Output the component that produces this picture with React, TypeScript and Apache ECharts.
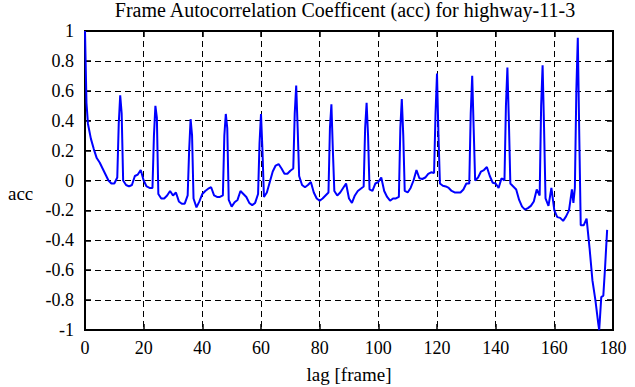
import React, { useEffect, useRef } from "react";
import * as echarts from "echarts";

const titleText = "Frame Autocorrelation Coefficent (acc) for highway-11-3";
const xAxisName = "lag [frame]";
const yAxisName = "acc";

const xTicks = [0, 20, 40, 60, 80, 100, 120, 140, 160, 180];
const yTicks = [-1, -0.8, -0.6, -0.4, -0.2, 0, 0.2, 0.4, 0.6, 0.8, 1];

const lags = [
  0, 0.5, 1, 2, 3, 4, 5, 6, 7, 8, 9, 10, 11, 11.5, 12, 12.5, 13, 14, 15, 16, 17, 18, 19, 20,
  21, 22, 23, 23.5, 24, 24.5, 25, 26, 27, 28, 29, 30, 31, 32, 33, 34, 35, 35.5, 36, 36.5, 37,
  38, 39, 40, 41, 42, 43, 44, 45, 46, 47, 47.5, 48, 48.5, 49, 50, 51, 52, 53, 54, 55, 56, 57,
  58, 59, 59.5, 60, 60.5, 61, 62, 63, 64, 65, 66, 67, 68, 69, 70, 71, 71.5, 72, 72.5, 73, 74,
  75, 76, 77, 78, 79, 80, 81, 82, 83, 83.5, 84, 84.5, 85, 86, 87, 88, 89, 90, 91, 92, 93, 94,
  95, 95.5, 96, 96.5, 97, 98, 99, 100, 101, 102, 103, 104, 105, 106, 107, 107.5, 108, 108.5,
  109, 110, 111, 112, 113, 114, 115, 116, 117, 118, 119, 119.5, 120, 120.5, 121, 122, 123, 124,
  125, 126, 127, 128, 129, 130, 131, 131.5, 132, 132.5, 133, 134, 135, 136, 137, 138, 139, 140,
  141, 142, 143, 143.5, 144, 144.5, 145, 146, 147, 148, 149, 150, 151, 152, 153, 154, 155, 155.5,
  156, 156.5, 157, 158, 159, 160, 161, 162, 163, 164, 165, 166, 166.5, 167, 167.5, 168, 168.5,
  169, 170, 171, 172, 173, 174, 175, 175.3, 176, 176.7, 177.3, 178,
];

const acc = [
  1.0, 0.52, 0.38, 0.28, 0.21, 0.15, 0.12, 0.08, 0.04, 0.0, -0.02, -0.02, 0.02, 0.38, 0.57, 0.45, 0.0, -0.03, -0.04, -0.03, 0.03, 0.04, 0.07, 0.0,
  -0.04, -0.05, -0.05, 0.3, 0.5, 0.42, -0.09, -0.12, -0.12, -0.1, -0.07, -0.1, -0.08, -0.14, -0.155, -0.155, -0.1, 0.2, 0.41, 0.3, -0.12,
  -0.18, -0.14, -0.09, -0.07, -0.055, -0.045, -0.1, -0.11, -0.11, -0.1, 0.3, 0.445, 0.35, -0.13, -0.175, -0.145, -0.13, -0.07, -0.09, -0.11, -0.15, -0.165,
  -0.15, -0.09, 0.25, 0.445, 0.2, -0.11, -0.08, -0.01, 0.06, 0.1, 0.11, 0.08, 0.045, 0.045, 0.065, 0.08, 0.45, 0.635, 0.35, 0.03, -0.03,
  -0.045, -0.03, -0.01, -0.08, -0.12, -0.135, -0.12, -0.1, -0.08, 0.35, 0.51, 0.2, -0.07, -0.1, -0.08, -0.05, -0.02, -0.12, -0.15, -0.1, -0.07, -0.055,
  -0.04, 0.35, 0.52, 0.3, -0.06, -0.07, -0.02, -0.01, 0.02, -0.07, -0.11, -0.135, -0.12, -0.12, -0.11, 0.35, 0.545, 0.3,
  -0.07, -0.08, -0.05, 0.0, 0.07, 0.015, 0.01, 0.02, 0.045, 0.055, 0.05, 0.45, 0.715, 0.3, -0.02, -0.035, -0.04, -0.05,
  -0.07, -0.08, -0.08, -0.08, -0.06, -0.02, -0.02, 0.45, 0.7, 0.35, 0.0, 0.02, 0.06, 0.07, 0.09, 0.03, -0.015, -0.02,
  -0.05, 0.015, 0.0, 0.5, 0.755, 0.4, -0.02, -0.04, -0.06, -0.13, -0.175, -0.195, -0.185, -0.17, -0.14, -0.06, -0.1, 0.5,
  0.77, 0.35, -0.12, -0.17, -0.05, -0.2, -0.245, -0.25, -0.27, -0.24, -0.2, -0.06, -0.15, -0.05, 0.6, 0.955, 0.3,
  -0.3, -0.3, -0.255, -0.45, -0.67, -0.8, -0.96, -1.0, -0.78, -0.77, -0.58, -0.33,
];

const FONT = "Liberation Serif";

export default function App() {
  const ref = useRef<HTMLDivElement>(null);
  useEffect(() => {
    if (!ref.current) return;
    const chart = echarts.init(ref.current, undefined, { renderer: "svg" });
    const data = lags.map((l, i) => [l, acc[i]]);
    const fmt = (v: number) => String(Math.round(v * 10) / 10);
    const dash = { color: "#000", width: 1, type: [6, 4] as any };
    const gridLeft = 85, gridTop = 31, gridRight = 22, gridBottom = 57;
    const plotCx = gridLeft + (635 - gridLeft - gridRight) / 2;
    const labelStyle = (margin: number) => ({
      show: true, color: "#000", fontFamily: FONT, fontSize: 18, margin, formatter: fmt,
    });
    const frameAxis = (extra: any) => ({
      axisLine: { show: true, onZero: false, lineStyle: { color: "#000", width: 2 } },
      axisTick: { show: true, inside: true, length: 6, lineStyle: { color: "#000", width: 1.5 } },
      ...extra,
    });
    chart.setOption({
      animation: false,
      backgroundColor: "#fff",
      textStyle: { fontFamily: FONT, fontSize: 18, color: "#000" },
      grid: {
        left: gridLeft, top: gridTop, right: gridRight, bottom: gridBottom,
        show: true, borderColor: "#000", borderWidth: 2, backgroundColor: "transparent",
      },
      xAxis: [
        frameAxis({
          type: "value", min: xTicks[0], max: xTicks[xTicks.length - 1], interval: 20,
          axisLabel: labelStyle(9),
          splitLine: { show: true, lineStyle: dash },
        }),
        frameAxis({
          type: "value", position: "top", min: xTicks[0], max: xTicks[xTicks.length - 1], interval: 20,
          axisLabel: { show: false }, splitLine: { show: false },
        }),
      ],
      yAxis: [
        frameAxis({
          type: "value", min: yTicks[0], max: yTicks[yTicks.length - 1], interval: 0.2,
          axisLabel: labelStyle(11),
          splitLine: { show: true, lineStyle: dash },
        }),
        frameAxis({
          type: "value", position: "right", min: yTicks[0], max: yTicks[yTicks.length - 1], interval: 0.2,
          axisLabel: { show: false }, splitLine: { show: false },
        }),
      ],
      graphic: [
        {
          type: "text", x: plotCx - 4, y: 0,
          style: { text: titleText, fill: "#000", fontFamily: FONT, fontSize: 20, textAlign: "center", textVerticalAlign: "top" },
        },
        {
          type: "text", x: plotCx, y: 365,
          style: { text: xAxisName, fill: "#000", fontFamily: FONT, fontSize: 19, textAlign: "center", textVerticalAlign: "top" },
        },
        {
          type: "text", x: 8, y: 193,
          style: { text: yAxisName, fill: "#000", fontFamily: FONT, fontSize: 19, textAlign: "left", textVerticalAlign: "middle" },
        },
      ],
      series: [
        {
          type: "line", data, showSymbol: false, symbol: "none", clip: true,
          lineStyle: { color: "#0000ff", width: 2 },
          xAxisIndex: 0, yAxisIndex: 0,
        },
      ],
    });
    return () => chart.dispose();
  }, []);
  return (
    <div
      ref={ref}
      style={{ position: "fixed", left: 0, top: 0, width: 635, height: 387, background: "#fff" }}
    />
  );
}
